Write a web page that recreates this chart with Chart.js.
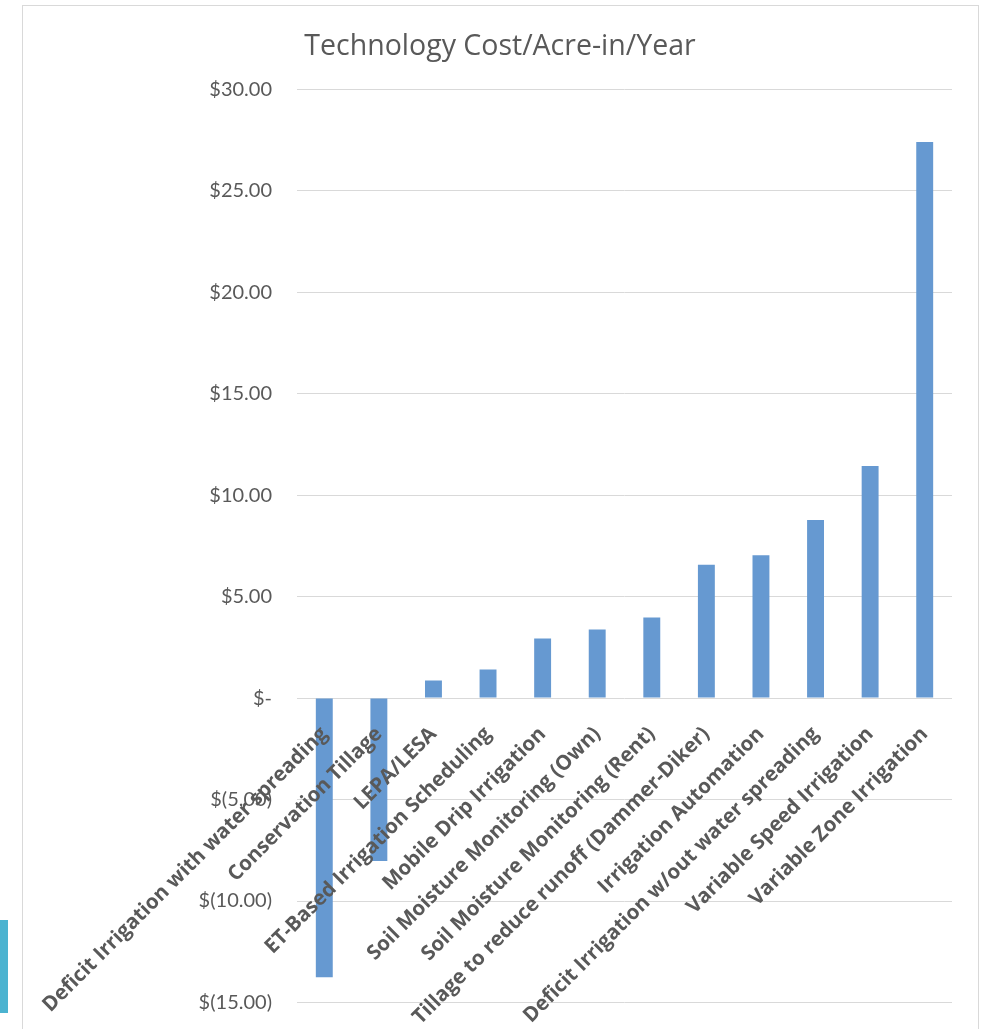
<!DOCTYPE html>
<html>
<head>
<meta charset="utf-8">
<script src="https://cdn.jsdelivr.net/npm/chart.js@4/dist/chart.umd.min.js"></script>
<style>
  html, body { margin: 0; padding: 0; background: #fff; }
  #wrap { position: relative; width: 982px; height: 1029px; overflow: hidden; }
  #frame { position: absolute; left: 22px; top: 5px; width: 955px; height: 1040px; border: 1px solid #d9d9d9; }
  #tab { position: absolute; left: 0; top: 920px; width: 8px; height: 93px; background: #4bb3d0; }
  #box { position: absolute; left: 0; top: 0; width: 982px; height: 1029px; }
</style>
</head>
<body>
<div id="wrap">
  <div id="frame"></div>
  <div id="tab"></div>
  <div id="box"><canvas id="chart"></canvas></div>
</div>
<script>
// technologies, sorted by cost
const technologies = [
  "Deficit Irrigation with water spreading",
  "Conservation Tillage",
  "LEPA/LESA",
  "ET-Based Irrigation Scheduling",
  "Mobile Drip Irrigation",
  "Soil Moisture Monitoring (Own)",
  "Soil Moisture Monitoring (Rent)",
  "Tillage to reduce runoff (Dammer-Diker)",
  "Irrigation Automation",
  "Deficit Irrigation w/out water spreading",
  "Variable Speed Irrigation",
  "Variable Zone Irrigation"
];
const costPerAcreIn = [-13.75, -8.03, 0.87, 1.41, 2.94, 3.38, 3.97, 6.57, 7.04, 8.77, 11.43, 27.4];

const yMin = -15;
const yMax = 30;
const yStep = 5;

function money(v) {
  if (v === 0) return "$-";
  if (v < 0) return "$(" + Math.abs(v).toFixed(2) + ")";
  return "$" + v.toFixed(2);
}

const ctx = document.getElementById("chart").getContext("2d");
new Chart(ctx, {
  type: "bar",
  data: {
    labels: technologies,
    datasets: [
      {
        label: "Cost/Acre-in/Year",
        data: costPerAcreIn,
        backgroundColor: "#6699d1",
        borderWidth: 0,
        barPercentage: 0.31,
        categoryPercentage: 1,
      },
    ],
  },
  options: {
    responsive: true,
    maintainAspectRatio: false,
    animation: false,
    layout: {
      padding: { left: 48, right: 30, top: 0, bottom: 26.5 },
    },
    plugins: {
      legend: { display: false },
      tooltip: { enabled: false },
      title: {
        display: true,
        text: "Technology Cost/Acre-in/Year",
        color: "#595959",
        font: { family: "'Open Sans'", size: 28.5, weight: "normal", lineHeight: 1.2 },
        padding: { top: 30, bottom: 25 },
      },
    },
    scales: {
      x: {
        // category labels hang from the zero line, over the negative bars
        position: { y: 0 },
        grid: { display: false },
        border: { display: false },
        ticks: {
          z: 1,
          autoSkip: false,
          minRotation: 45,
          maxRotation: 45,
          padding: 16,
          color: "#595959",
          font: { family: "'Open Sans'", size: 20.5, weight: "bold" },
        },
      },
      y: {
        min: yMin,
        max: yMax,
        grid: { color: "#d9d9d9", drawTicks: false },
        border: { display: false },
        ticks: {
          stepSize: yStep,
          padding: 25,
          color: "#595959",
          font: { family: "Lato", size: 20 },
          callback: function (value) {
            return money(value);
          },
        },
        afterFit: function (scale) {
          scale.width = 249;
          scale.paddingTop = 0;
          scale.paddingBottom = 0;
        },
      },
    },
  },
});
</script>
</body>
</html>
